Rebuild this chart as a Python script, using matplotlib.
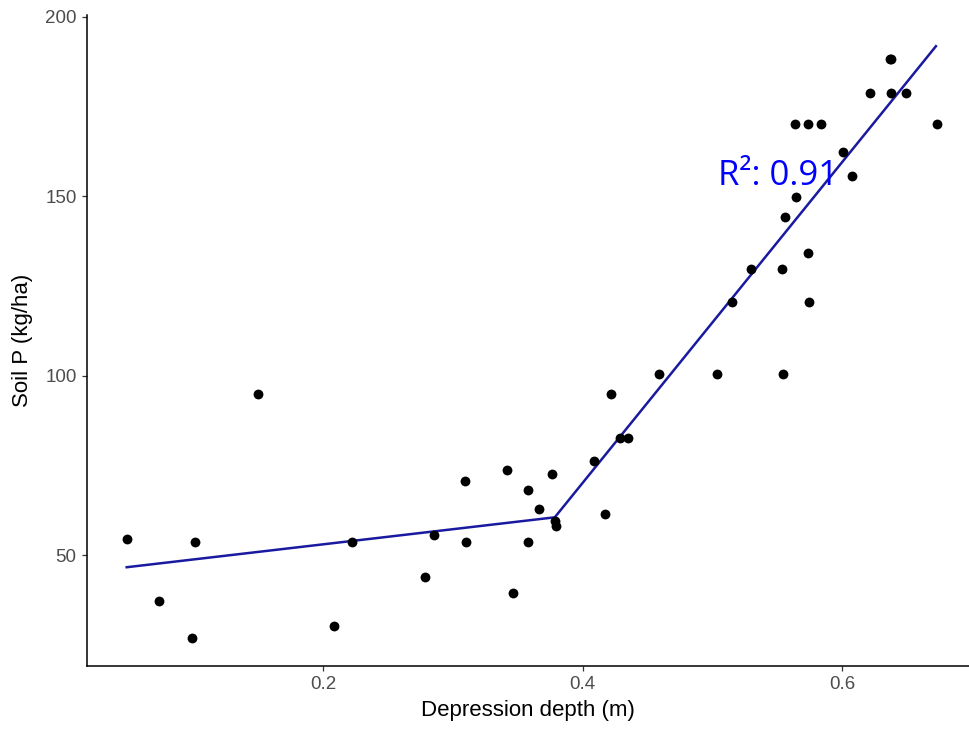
import numpy as np
import matplotlib
matplotlib.use("Agg")
import matplotlib.pyplot as plt

plt.rcParams['font.family'] = ['Liberation Sans', 'DejaVu Sans']

# observed points
depth = [0.0485, 0.0734, 0.1011, 0.0988, 0.1497, 0.2082, 0.2221, 0.2784, 0.2853,
         0.3092, 0.3100, 0.3416, 0.3462, 0.3577, 0.3577, 0.3662, 0.3762, 0.3786,
         0.3793, 0.4086, 0.4171, 0.4217, 0.4286, 0.4348, 0.4587, 0.5034, 0.5150,
         0.5296, 0.5535, 0.5543, 0.5558, 0.5643, 0.5635, 0.5735, 0.5743, 0.5735,
         0.5835, 0.6005, 0.6074, 0.6213, 0.6375, 0.6498, 0.6370, 0.6380, 0.6730]
soil_p = [54.7, 37.2, 53.6, 26.9, 95.0, 30.4, 53.6, 43.9, 55.8,
          70.6, 53.6, 73.9, 39.4, 68.1, 53.6, 62.8, 72.8, 59.7,
          58.3, 76.4, 61.4, 95.0, 82.8, 82.8, 100.6, 100.6, 120.6,
          129.7, 129.7, 100.6, 144.2, 149.7, 170.0, 134.2, 120.6, 170.0,
          170.0, 162.2, 155.6, 178.9, 178.9, 178.9, 188.1, 188.1, 170.0]

# piecewise fit
fit_x = [0.0485, 0.3786, 0.6725]
fit_y = [46.7, 60.6, 191.8]

r2_label = "R²: 0.91"

fig = plt.figure(figsize=(9.69, 7.30), dpi=100)
ax = fig.add_axes([0.0898, 0.0877, 0.9102, 0.8918])

ax.plot(fit_x, fit_y, color='#1a1aa0', lw=1.8, zorder=2)
ax.scatter(depth, soil_p, s=50, color='black', zorder=3, linewidths=0)
ax.text(0.5042, 153.1, r2_label, color='#0000ff', fontsize=25,
        family=['Open Sans', 'DejaVu Sans'], ha='left', va='baseline', zorder=4)

ax.set_xlim(0.0179, 0.698)
ax.set_ylim(19.2, 200.5)
ax.set_xticks([0.2, 0.4, 0.6])
ax.set_xticklabels(['0.2', '0.4', '0.6'])
ax.set_yticks([50, 100, 150, 200])

for s in ['top', 'right']:
    ax.spines[s].set_visible(False)
for s in ['left', 'bottom']:
    ax.spines[s].set_linewidth(1.1)
    ax.spines[s].set_color('black')

ax.tick_params(axis='both', colors='#333333', length=3.5, width=0.9,
               labelsize=13.5, labelcolor='#4d4d4d', pad=4)

ax.set_xlabel('Depression depth (m)', fontsize=16, color='black', labelpad=5)
ax.set_ylabel('Soil P (kg/ha)', fontsize=16, color='black', labelpad=9)

fig.savefig('out.png', dpi=100)
